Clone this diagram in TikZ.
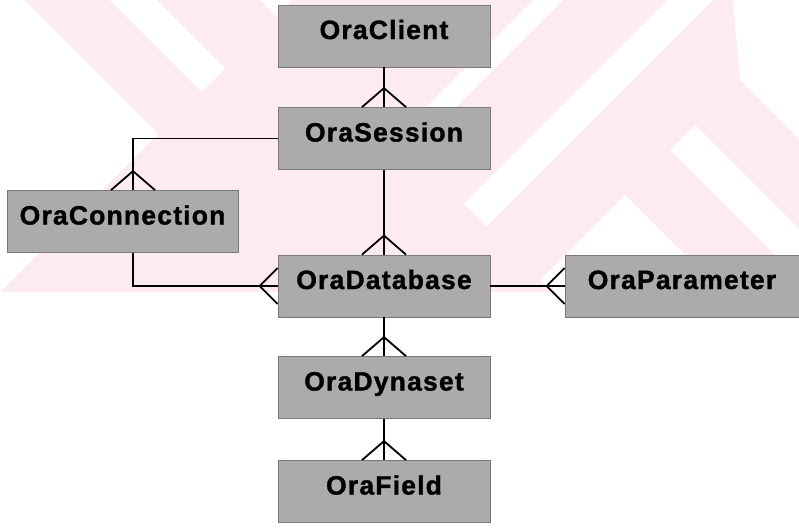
\documentclass[tikz,border=0pt]{standalone}
\usepackage{fontspec}
\newfontfamily\boxfont[LetterSpace=4.5,FakeBold=1.4]{Liberation Sans}
\definecolor{wmpink}{RGB}{253,235,239}
\definecolor{boxgray}{RGB}{172,170,170}
\definecolor{boxedge}{RGB}{120,120,120}
\newcommand\crowfootN[1]{\draw[link] ([xshift=-22pt]#1) -- ([yshift=19pt]#1) -- ([xshift=22pt]#1);}
\newcommand\crowfootW[1]{\draw[link] ([yshift=18pt]#1) -- ([xshift=-18pt]#1) -- ([yshift=-18pt]#1);}
\begin{document}
\begin{tikzpicture}[x=1pt,y=-1pt,
  entity/.style={rectangle, fill=boxgray, draw=boxedge, line width=0.8pt,
    minimum height=62pt, inner sep=0pt, text height=19pt, text depth=13pt,
    font=\boxfont\fontsize{26.5pt}{29pt}\bfseries},
  link/.style={line width=1.8pt, black, line join=miter},
  wmwhite/.style={fill=white}
]
\useasboundingbox (0,0) rectangle (799,528);
% watermark
\begin{scope}
  \clip (0,0) rectangle (799,292);
  \fill[wmpink] (0,0) rectangle (799,292);
  \fill[wmwhite] (0,0) -- (25,0) -- (158.5,133.5) -- (0,292) -- cycle;
  \fill[wmwhite] (533,0) -- (563,0) -- (405.5,157.5) -- (390.5,142.5) -- cycle;
  \fill[wmwhite] (667,0) -- (713,0) -- (421,292) -- (375,292) -- cycle;
  \fill[wmwhite] (625,195) -- (722,292) -- (528,292) -- cycle;
  \fill[wmwhite] (695,125) -- (799,229) -- (799,279) -- (670,150) -- cycle;
  \fill[wmwhite] (733,0) -- (799,0) -- (799,139) -- (740,80) -- cycle;
  \fill[wmpink] (25,0) -- (260,0) -- (552,292) -- (317,292) -- cycle;
  \fill[wmwhite] (110,0) -- (157,0) -- (225.25,68.25) -- (201.75,91.75) -- cycle;
  \fill[wmwhite] (260,0) -- (292,0) -- (276,16) -- cycle;
\end{scope}
% entities
\node[entity, minimum width=212pt] (client)  at (384,36)    {OraClient};
\node[entity, minimum width=212pt] (session) at (384,138.5) {OraSession};
\node[entity, minimum width=231pt] (conn)    at (122.5,221.5) {OraConnection};
\node[entity, minimum width=212pt] (db)      at (384,286)   {OraDatabase};
\node[entity, minimum width=234pt] (param)   at (682,286)   {OraParameter};
\node[entity, minimum width=212pt] (dyn)     at (384,387.5) {OraDynaset};
\node[entity, minimum width=212pt] (field)   at (384,491.5) {OraField};
\coordinate (connT) at ([xshift=10.5pt]conn.north);
\coordinate (connB) at ([xshift=10.5pt]conn.south);
% relationships
\draw[link] (client) -- (session);  \crowfootN{session.north}
\draw[link] (session) -- (db);      \crowfootN{db.north}
\draw[link] (session.west) -| (connT); \crowfootN{connT}
\draw[link] (connB) |- (db.west);   \crowfootW{db.west}
\draw[link] (db.east) -- (param.west); \crowfootW{param.west}
\draw[link] (db) -- (dyn);          \crowfootN{dyn.north}
\draw[link] (dyn) -- (field);       \crowfootN{field.north}
\end{tikzpicture}
\end{document}
